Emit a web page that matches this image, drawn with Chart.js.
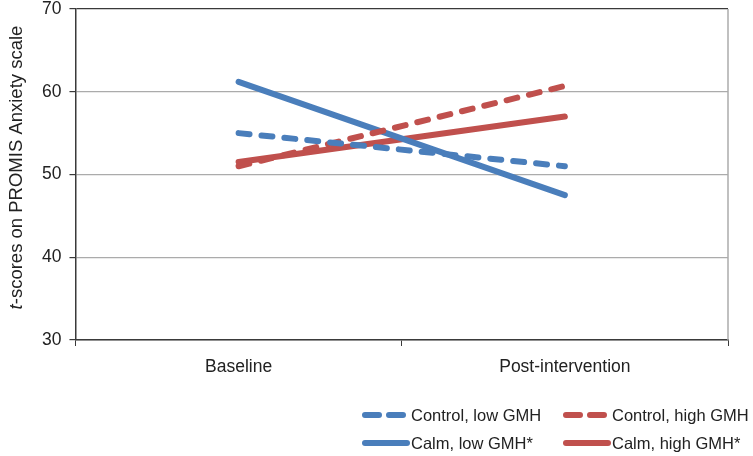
<!DOCTYPE html>
<html>
<head>
<meta charset="utf-8">
<script src="https://cdn.jsdelivr.net/npm/chart.js@4"></script>
<style>
  body { margin: 0; background: #fff; }
  #wrap { width: 753px; height: 456px; }
</style>
</head>
<body>
<div id="wrap"><canvas id="myChart"></canvas></div>
<script>
let timePoints = ["Baseline", "Post-intervention"];
let controlLow = [55.0, 51.0];
let controlHigh = [51.0, 60.7];
let calmLow = [61.2, 47.5];
let calmHigh = [51.5, 57.0];
let seriesNames = ["Control, low GMH", "Control, high GMH", "Calm, low GMH*", "Calm, high GMH*"];

const blue = '#4a7ebb';
const red = '#c0504d';
const axisDark = '#3a3a3a';
const gridGray = '#ababab';
const fontFam = '"Liberation Sans", Arial, sans-serif';

function makeSet(name, values, color, dashed) {
  return {
    label: name,
    data: values,
    borderColor: color,
    backgroundColor: color,
    borderWidth: 6,
    borderDash: dashed ? [11, 12] : [],
    borderCapStyle: 'round',
    pointRadius: 0,
    tension: 0,
    fill: false
  };
}

// y title with italic "t", right plot border and the 2x2 legend
const extras = {
  id: 'extras',
  afterDraw(chart) {
    const c = chart.ctx;
    const area = chart.chartArea;
    c.save();
    // right border
    c.strokeStyle = gridGray;
    c.lineWidth = 1.5;
    c.beginPath();
    c.moveTo(area.right, area.top);
    c.lineTo(area.right, area.bottom);
    c.stroke();

    // y axis title
    c.translate(22, (area.top + area.bottom) / 2 - 7);
    c.rotate(-Math.PI / 2);
    c.fillStyle = '#222';
    c.textBaseline = 'alphabetic';
    let rest = '-scores on PROMIS Anxiety scale';
    c.font = 'italic 18.5px ' + fontFam;
    let w1 = c.measureText('t').width;
    c.font = '18.5px ' + fontFam;
    let w2 = c.measureText(rest).width;
    let x0 = -(w1 + w2) / 2;
    c.font = 'italic 18.5px ' + fontFam;
    c.fillText('t', x0, 0);
    c.font = '18.5px ' + fontFam;
    c.fillText(rest, x0 + w1, 0);
    c.restore();

    // legend
    c.save();
    const cols = [362, 563];
    const rows = [415, 443];
    chart.data.datasets.forEach((ds, i) => {
      let x = cols[i % 2];
      let y = rows[Math.floor(i / 2)];
      c.strokeStyle = ds.borderColor;
      c.lineWidth = 6;
      c.lineCap = 'round';
      c.setLineDash(ds.borderDash.length ? [14, 10] : []);
      c.beginPath();
      c.moveTo(x + 3, y);
      c.lineTo(x + 45, y);
      c.stroke();
      c.setLineDash([]);
      c.fillStyle = '#222';
      c.font = '16.5px ' + fontFam;
      c.textBaseline = 'middle';
      c.fillText(ds.label, x + 49, y + 1);
    });
    c.restore();
  }
};

const ctx = document.getElementById('myChart');

let myChart = new Chart(ctx, {
  type: 'line',
  data: {
    labels: timePoints,
    datasets: [
      makeSet(seriesNames[0], controlLow, blue, true),
      makeSet(seriesNames[1], controlHigh, red, true),
      makeSet(seriesNames[2], calmLow, blue, false),
      makeSet(seriesNames[3], calmHigh, red, false)
    ]
  },
  options: {
    animation: false,
    responsive: true,
    maintainAspectRatio: false,
    layout: {
      padding: { left: 34, right: 25, top: 9, bottom: 67 }
    },
    plugins: {
      legend: { display: false },
      tooltip: { enabled: false }
    },
    scales: {
      x: {
        offset: true,
        border: { color: axisDark, width: 1.5 },
        grid: {
          offset: true,
          drawOnChartArea: false,
          tickLength: 6,
          tickColor: axisDark
        },
        ticks: {
          color: '#222',
          font: { family: fontFam, size: 17.5 },
          padding: 11
        }
      },
      y: {
        min: 30,
        max: 70,
        afterFit(scale) { scale.paddingTop = 0; },
        border: { color: axisDark, width: 1.5 },
        grid: {
          color: (context) => context.tick && context.tick.value === 70 ? axisDark : gridGray,
          lineWidth: 1.2,
          tickLength: 6,
          tickColor: axisDark
        },
        ticks: {
          stepSize: 10,
          color: '#222',
          font: { family: fontFam, size: 17.5 },
          padding: 8
        }
      }
    }
  },
  plugins: [extras]
});
</script>
</body>
</html>
